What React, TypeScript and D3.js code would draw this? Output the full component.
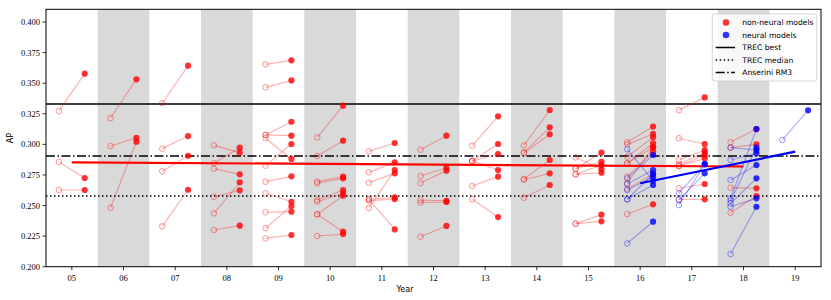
import React from "react";
import * as d3 from "d3";

// year, AP before (open), AP after (filled)
const nonNeural: [number, number, number][] = [
  [5, 0.3273, 0.3578], [5, 0.2856, 0.2725], [5, 0.2627, 0.2627],
  [6, 0.3215, 0.3532], [6, 0.2986, 0.3054], [6, 0.2482, 0.3022],
  [7, 0.3336, 0.3643], [7, 0.2965, 0.3068], [7, 0.278, 0.2907], [7, 0.233, 0.2629],
  [8, 0.2992, 0.2932], [8, 0.2845, 0.2973], [8, 0.2801, 0.2755], [8, 0.2572, 0.2624], [8, 0.2436, 0.269], [8, 0.23, 0.2335],
  [9, 0.3654, 0.3687], [9, 0.3466, 0.3523], [9, 0.3077, 0.3185], [9, 0.3077, 0.3071], [9, 0.305, 0.2881],
  [9, 0.2826, 0.3003], [9, 0.2695, 0.2739], [9, 0.26, 0.2531], [9, 0.2445, 0.245], [9, 0.2314, 0.2496], [9, 0.2232, 0.2259],
  [10, 0.3057, 0.3316], [10, 0.2905, 0.303], [10, 0.2695, 0.2736], [10, 0.2682, 0.2722], [10, 0.2545, 0.2627],
  [10, 0.2531, 0.26], [10, 0.2428, 0.258], [10, 0.2428, 0.2286], [10, 0.2251, 0.2267],
  [11, 0.2943, 0.3011], [11, 0.2771, 0.2853], [11, 0.2687, 0.2763], [11, 0.2551, 0.2567], [11, 0.2539, 0.2553], [11, 0.2551, 0.2305], [11, 0.248, 0.279],
  [12, 0.2956, 0.3071], [12, 0.2741, 0.2809], [12, 0.2684, 0.2785], [12, 0.2545, 0.2539], [12, 0.2523, 0.2529], [12, 0.2245, 0.2333],
  [13, 0.2989, 0.3229], [13, 0.2864, 0.3003], [13, 0.2864, 0.2921], [13, 0.2864, 0.279], [13, 0.266, 0.2736], [13, 0.2551, 0.2406],
  [14, 0.2992, 0.3281], [14, 0.2935, 0.3139], [14, 0.2929, 0.3082], [14, 0.2717, 0.2872], [14, 0.2711, 0.2763], [14, 0.2564, 0.2668],
  [15, 0.2894, 0.2796], [15, 0.2801, 0.2932], [15, 0.2801, 0.2858], [15, 0.2755, 0.2831], [15, 0.2755, 0.2768], [15, 0.2352, 0.2425], [15, 0.2352, 0.2371],
  [16, 0.3017, 0.3145], [16, 0.3, 0.3085], [16, 0.2899, 0.3058], [16, 0.2845, 0.3009], [16, 0.2845, 0.2976],
  [16, 0.2736, 0.294], [16, 0.2682, 0.2976], [16, 0.2635, 0.2758], [16, 0.2431, 0.251],
  [17, 0.328, 0.3384], [17, 0.305, 0.3003], [17, 0.2872, 0.2954], [17, 0.2839, 0.2932], [17, 0.2823, 0.2913],
  [17, 0.2823, 0.2886], [17, 0.2641, 0.2676], [17, 0.2551, 0.2551],
  [18, 0.3017, 0.3125], [18, 0.2973, 0.3], [18, 0.2646, 0.2641], [18, 0.2441, 0.2578],
];

const neural: [number, number, number][] = [
  [16, 0.296, 0.2703], [16, 0.2722, 0.2913], [16, 0.2676, 0.279], [16, 0.2627, 0.2736],
  [16, 0.2551, 0.2668], [16, 0.2551, 0.2758], [16, 0.2191, 0.2368],
  [17, 0.26, 0.2839], [17, 0.2545, 0.2763], [17, 0.2504, 0.2839],
  [18, 0.2973, 0.2954], [18, 0.2872, 0.2927], [18, 0.2709, 0.2831], [18, 0.2559, 0.3125],
  [18, 0.254, 0.2973], [18, 0.2518, 0.2722], [18, 0.249, 0.2559], [18, 0.2104, 0.249],
  [19, 0.3036, 0.3278],
];

const nonNeuralTrend: [number, number][] = [[5, 0.2853], [18, 0.2819]];
const neuralTrend: [number, number][] = [[16, 0.2682], [19, 0.294]];

const trecBest = 0.333;
const trecMedian = 0.2578;
const anseriniRM3 = 0.2905;

const years = d3.range(5, 20);
const yTicks = d3.range(0.2, 0.4001, 0.025);
const legendLabels = ["non-neural models", "neural models", "TREC best", "TREC median", "Anserini RM3"];

const W = 831, H = 300;
const L = 46, R = 821, T = 9.3, B = 266.7;

export default function App() {
  const x = d3.scaleLinear().domain([4.5, 19.5]).range([L, R]);
  const y = d3.scaleLinear().domain([0.2, 0.4104]).range([B, T]);
  const line = d3.line<[number, number]>().x(d => x(d[0])).y(d => y(d[1]));
  const serif = "'Liberation Serif', 'Times New Roman', serif";
  const sans = "'DejaVu Sans', sans-serif";

  const drawPairs = (data: [number, number, number][], color: string, key: string) => (
    <g key={key}>
      {data.map((d, i) => (
        <line key={"l" + i} x1={x(d[0] - 0.25)} y1={y(d[1])} x2={x(d[0] + 0.25)} y2={y(d[2])}
          stroke={color} strokeOpacity={0.3} strokeWidth={1.2} />
      ))}
      {data.map((d, i) => (
        <circle key={"o" + i} cx={x(d[0] - 0.25)} cy={y(d[1])} r={2.8} fill="none"
          stroke={color} strokeOpacity={0.4} strokeWidth={1} />
      ))}
      {data.map((d, i) => (
        <circle key={"f" + i} cx={x(d[0] + 0.25)} cy={y(d[2])} r={3.1} fill={color} fillOpacity={0.8} />
      ))}
    </g>
  );

  const legX = 712.3, legY = 14, legW = 104.4, legH = 67;
  const rowY = (i: number) => 22.5 + i * 12.5;

  return (
    <svg width={W} height={H} style={{ position: "fixed", left: 0, top: 0, background: "#fff" }}>
      <defs>
        <clipPath id="plot"><rect x={L} y={T} width={R - L} height={B - T} /></clipPath>
      </defs>
      <rect x={0} y={0} width={W} height={H} fill="#fff" />
      <g clipPath="url(#plot)">
        {years.filter(v => v % 2 === 0).map(v => (
          <rect key={v} x={x(v - 0.5)} y={T} width={x(v + 0.5) - x(v - 0.5)} height={B - T} fill="#d9d9d9" />
        ))}
        <line x1={L} x2={R} y1={y(trecBest)} y2={y(trecBest)} stroke="#000" strokeWidth={1.5} />
        <line x1={L} x2={R} y1={y(trecMedian)} y2={y(trecMedian)} stroke="#000" strokeWidth={1.5} strokeDasharray="1.5,2.5" />
        <line x1={L} x2={R} y1={y(anseriniRM3)} y2={y(anseriniRM3)} stroke="#000" strokeWidth={1.5} strokeDasharray="9,2.5,1.5,2.5" />
        <path d={line(nonNeuralTrend) || ""} stroke="#ff0000" strokeWidth={2.2} fill="none" />
        <path d={line(neuralTrend) || ""} stroke="#0000ff" strokeWidth={2.2} fill="none" />
        {drawPairs(nonNeural, "#ff0000", "red")}
        {drawPairs(neural, "#0000ff", "blue")}
      </g>
      <rect x={L} y={T} width={R - L} height={B - T} fill="none" stroke="#000" strokeWidth={1} />
      {yTicks.map(t => (
        <g key={t}>
          <line x1={L - 3.5} x2={L} y1={y(t)} y2={y(t)} stroke="#000" strokeWidth={0.8} />
          <text x={L - 6} y={y(t) + 3} textAnchor="end" fontFamily={serif} fontSize={8.5}>{t.toFixed(3)}</text>
        </g>
      ))}
      {years.map(v => (
        <g key={v}>
          <line x1={x(v)} x2={x(v)} y1={B} y2={B + 3.5} stroke="#000" strokeWidth={0.8} />
          <text x={x(v)} y={B + 14} textAnchor="middle" fontFamily={serif} fontSize={8.5}>{String(v).padStart(2, "0")}</text>
        </g>
      ))}
      <text x={405} y={292} textAnchor="middle" fontFamily={sans} fontSize={8}>Year</text>
      <text transform="translate(13,138) rotate(-90)" textAnchor="middle" fontFamily={sans} fontSize={8}>AP</text>
      <g>
        <rect x={legX} y={legY} width={legW} height={legH} rx={2} fill="#fff" fillOpacity={0.8} stroke="#ccc" strokeWidth={0.8} />
        <circle cx={726} cy={rowY(0)} r={3.3} fill="#ff0000" fillOpacity={0.8} />
        <circle cx={726} cy={rowY(1)} r={3.3} fill="#0000ff" fillOpacity={0.8} />
        <line x1={715.7} x2={735} y1={rowY(2)} y2={rowY(2)} stroke="#000" strokeWidth={1.5} />
        <line x1={715.7} x2={735} y1={rowY(3)} y2={rowY(3)} stroke="#000" strokeWidth={1.5} strokeDasharray="1.5,2.5" />
        <line x1={715.7} x2={735} y1={rowY(4)} y2={rowY(4)} stroke="#000" strokeWidth={1.5} strokeDasharray="9,2.5,1.5,2.5" />
        {legendLabels.map((s, i) => (
          <text key={s} x={742.3} y={rowY(i) + 2.8} fontFamily={sans} fontSize={7.6}>{s}</text>
        ))}
      </g>
    </svg>
  );
}
